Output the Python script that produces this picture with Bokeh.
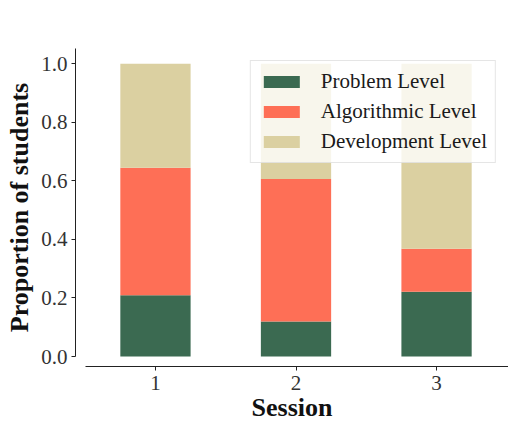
from bokeh.plotting import figure
from bokeh.models import FixedTicker, Range1d, PrintfTickFormatter, Legend
from bokeh.embed import file_html
from bokeh.resources import INLINE

sessions = [1, 2, 3]
problem = [0.209, 0.120, 0.221]
algorithmic = [0.436, 0.486, 0.147]
development = [0.355, 0.394, 0.632]
levels = ["Problem Level", "Algorithmic Level", "Development Level"]
colors = ["#3B6A51", "#FE6F56", "#DBD0A1"]
y_ticks = [0.0, 0.2, 0.4, 0.6, 0.8, 1.0]

FONT = "Liberation Serif"

data = dict(session=sessions, problem=problem, algorithmic=algorithmic, development=development)

p = figure(width=508, height=424, output_backend="svg", toolbar_location=None,
           x_range=Range1d(0.431, 3.512), y_range=Range1d(-0.034, 1.052))
p.min_border_left = 75
p.min_border_right = 0
p.min_border_top = 48
p.min_border_bottom = 57
p.outline_line_color = None
p.xgrid.visible = False
p.ygrid.visible = False

rs = p.vbar_stack(["problem", "algorithmic", "development"], x="session", width=0.5,
                  color=colors, source=data, line_color=None)

legend = Legend(items=[(lab, [r]) for lab, r in zip(levels, rs)], location="top_right")
legend.margin = 12
legend.padding = 8
legend.spacing = 5
legend.glyph_width = 45
legend.glyph_height = 15
legend.label_standoff = 17
legend.label_text_font = FONT
legend.label_text_font_size = "21px"
legend.label_text_color = "#1a1a1a"
legend.background_fill_color = "white"
legend.background_fill_alpha = 0.8
legend.border_line_color = "#cccccc"
legend.border_line_width = 1
p.add_layout(legend, "center")

for ax in (p.xaxis[0], p.yaxis[0]):
    ax.axis_line_color = "#222222"
    ax.axis_line_width = 1
    ax.major_tick_line_color = "#222222"
    ax.major_tick_out = 4
    ax.major_tick_in = 0
    ax.minor_tick_out = 0
    ax.minor_tick_in = 0
    ax.major_label_text_font = FONT
    ax.major_label_text_font_size = "21px"
    ax.major_label_text_color = "#333333"
    ax.axis_label_text_font = FONT
    ax.axis_label_text_font_size = "26px"
    ax.axis_label_text_font_style = "bold"
    ax.axis_label_text_color = "#111111"

p.xaxis.ticker = FixedTicker(ticks=sessions)
p.xaxis.bounds = (0.5, 3.512)
p.xaxis.axis_label = "Session"
p.xaxis.major_label_standoff = 5
p.xaxis.axis_label_standoff = 0

p.yaxis.ticker = FixedTicker(ticks=y_ticks)
p.yaxis.formatter = PrintfTickFormatter(format="%.1f")
p.yaxis.bounds = (0.0, 1.052)
p.yaxis.axis_label = "Proportion of students"
p.yaxis.major_label_standoff = 4
p.yaxis.axis_label_standoff = 4

open("out.html", "w").write(file_html(p, INLINE))
